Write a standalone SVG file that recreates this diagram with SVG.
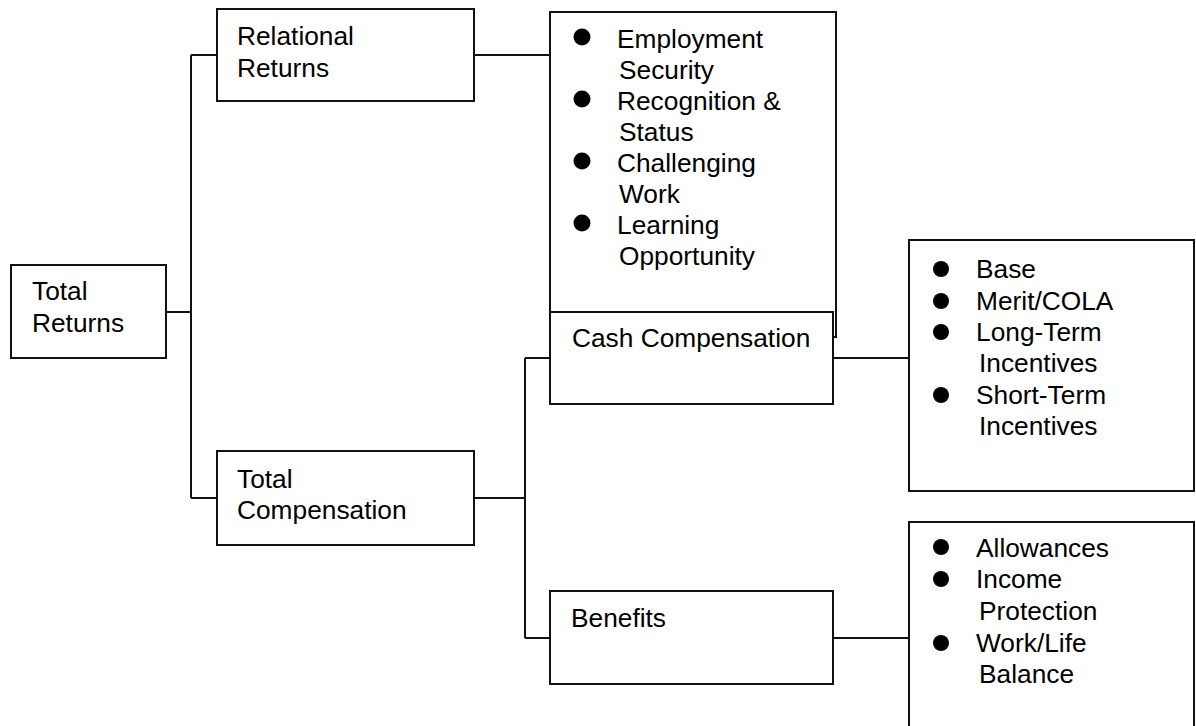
<svg xmlns="http://www.w3.org/2000/svg" width="1196" height="726" viewBox="0 0 1196 726">
  <style>
    .box { fill: #fff; stroke: #111; stroke-width: 2; }
    .wire { fill: none; stroke: #111; stroke-width: 2; }
    .lbl { font-family: "Liberation Sans", Arial, sans-serif; font-size: 26.3px; fill: #000; }
    .dot { fill: #000; }
  </style>
  <rect width="1196" height="726" fill="#fff"/>

  <!-- connectors -->
  <g id="connectors">
    <path class="wire" d="M166 312 H191 M191 55 V498 M191 55 H217 M191 498 H217"/>
    <path class="wire" d="M474 55 H550"/>
    <path class="wire" d="M474 498 H525 M525 358 V638 M525 358 H550 M525 638 H550"/>
    <path class="wire" d="M833 358 H909"/>
    <path class="wire" d="M833 638 H909"/>
  </g>

  <g id="total-returns">
    <rect class="box" x="11" y="265" width="155" height="93"/>
    <text class="lbl" x="32" y="300">Total</text>
    <text class="lbl" x="32" y="332">Returns</text>
  </g>

  <g id="relational-returns">
    <rect class="box" x="217" y="9" width="257" height="92"/>
    <text class="lbl" x="237" y="45">Relational</text>
    <text class="lbl" x="237" y="77">Returns</text>
  </g>

  <g id="relational-items">
    <rect class="box" x="550" y="12" width="286" height="325"/>
    <circle class="dot" cx="582" cy="37" r="8.5"/>
    <circle class="dot" cx="582" cy="99" r="8.5"/>
    <circle class="dot" cx="582" cy="161" r="8.5"/>
    <circle class="dot" cx="582" cy="223" r="8.5"/>
    <text class="lbl" x="617" y="48">Employment</text>
    <text class="lbl" x="619" y="79">Security</text>
    <text class="lbl" x="617" y="110">Recognition &amp;</text>
    <text class="lbl" x="619" y="141">Status</text>
    <text class="lbl" x="617" y="172">Challenging</text>
    <text class="lbl" x="619" y="203">Work</text>
    <text class="lbl" x="617" y="234">Learning</text>
    <text class="lbl" x="619" y="265">Opportunity</text>
  </g>

  <g id="cash-compensation">
    <rect class="box" x="550" y="312" width="283" height="92"/>
    <text class="lbl" x="572" y="347">Cash Compensation</text>
  </g>

  <g id="total-compensation">
    <rect class="box" x="217" y="451" width="257" height="94"/>
    <text class="lbl" x="237" y="488">Total</text>
    <text class="lbl" x="237" y="519">Compensation</text>
  </g>

  <g id="benefits">
    <rect class="box" x="550" y="591" width="283" height="93"/>
    <text class="lbl" x="571" y="627">Benefits</text>
  </g>

  <g id="cash-items">
    <rect class="box" x="909" y="240" width="285" height="251"/>
    <circle class="dot" cx="941" cy="269" r="8"/>
    <circle class="dot" cx="941" cy="301" r="8"/>
    <circle class="dot" cx="941" cy="332" r="8"/>
    <circle class="dot" cx="941" cy="395" r="8"/>
    <text class="lbl" x="976" y="278">Base</text>
    <text class="lbl" x="976" y="310">Merit/COLA</text>
    <text class="lbl" x="976" y="341">Long-Term</text>
    <text class="lbl" x="979" y="372">Incentives</text>
    <text class="lbl" x="976" y="404">Short-Term</text>
    <text class="lbl" x="979" y="435">Incentives</text>
  </g>

  <g id="benefit-items">
    <rect class="box" x="909" y="522" width="285" height="220"/>
    <circle class="dot" cx="941" cy="547" r="8"/>
    <circle class="dot" cx="941" cy="579" r="8"/>
    <circle class="dot" cx="941" cy="643" r="8"/>
    <text class="lbl" x="976" y="557">Allowances</text>
    <text class="lbl" x="976" y="588">Income</text>
    <text class="lbl" x="979" y="620">Protection</text>
    <text class="lbl" x="976" y="652">Work/Life</text>
    <text class="lbl" x="979" y="683">Balance</text>
  </g>
</svg>
